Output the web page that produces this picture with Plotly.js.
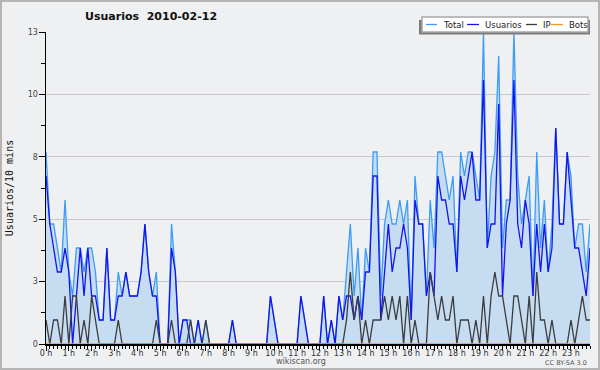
<!DOCTYPE html>
<html>
<head>
<meta charset="utf-8">
<script src="https://cdn.plot.ly/plotly-3.0.1.min.js"></script>
<style>
  html, body { margin: 0; padding: 0; background: #eff0f2; }
  #chart { width: 600px; height: 370px; }
  #frame { position: absolute; left: 0; top: 0; width: 600px; height: 370px; box-sizing: border-box; border: 2px solid #b4b4b4; pointer-events: none; }
</style>
</head>
<body>
<div id="chart"></div>
<div id="frame"></div>
<script>
// 10-minute slots, 2010-02-12 (144 slots)
const usuarios = [7,5,4,3,3,4,3,0,2,4, 2,4,2,2,1,1,4,1,1,2, 2,3,2,2,2,3,5,3,2,2,
  0,0,0,4,3,0,1,1,0,0, 1,0,0,0,0,0,0,0,0,1, 0,0,0,0,0,0,0,0,0,2, 1,0,0,0,0,0,0,2,1,0,
  0,0,0,2,0,1,0,2,1,2, 2,1,2,1,3,3,7,7,1,3, 5,3,4,4,5,4,1,6,5,5, 2,3,2,7,6,6,5,5,3,7,
  6,7,8,6,6,11,4,5,5,10, 2,5,6,11,5,4,6,5,2,5, 3,5,3,4,9,5,5,8,6,4, 4,3,2,4];
const ip = [1,0,1,1,0,2,0,2,2,0, 1,0,2,1,0,0,0,0,0,1, 0,0,0,0,0,0,0,0,0,1,
  0,0,0,1,0,0,0,0,1,0, 0,0,1,0,0,0,0,0,0,0, 0,0,0,0,0,0,0,0,0,0, 0,0,0,0,0,0,0,0,0,0,
  0,0,0,0,0,0,0,0,0,1, 3,1,2,0,1,0,1,1,1,2, 1,2,1,2,0,2,0,1,0,0, 0,3,2,1,2,1,1,2,0,1,
  1,1,0,1,0,2,0,2,3,2, 2,1,0,2,2,1,0,2,0,3, 1,1,0,1,0,0,0,0,1,0, 1,2,1,1];
const total = [8,5,5,4,3,6,3,2,4,4, 3,4,4,3,1,1,4,1,1,3, 2,3,2,2,2,3,5,3,2,3,
  0,0,0,5,3,0,1,1,1,0, 1,0,1,0,0,0,0,0,0,1, 0,0,0,0,0,0,0,0,0,2, 1,0,0,0,0,0,0,2,1,0,
  0,0,0,2,0,1,0,2,1,3, 5,2,4,1,4,3,8,8,2,5, 6,5,5,6,5,6,1,7,5,5, 2,6,4,8,8,7,6,7,3,8,
  7,8,8,7,6,13,4,7,8,12, 4,6,6,13,7,5,6,7,2,8, 4,6,3,5,9,5,5,8,7,4, 5,5,3,5];
const bots = [0,0,0,0,0,0,0,0,0,0, 0,0,0,0,0,0,0,0,0,0, 0,0,0,0,0,0,0,0,0,0,
  0,0,0,0,0,0,0,0,0,0, 0,0,0,0,0,0,0,0,0,0, 0,0,0,0,0,0,0,0,0,0, 0,0,0,0,0,0,0,0,0,0,
  0,0,0,0,0,0,0,0,0,0, 0,0,0,0,0,0,0,0,0,0, 0,0,0,0,0,0,0,0,0,0, 0,0,0,0,0,0,0,0,0,0,
  0,0,0,0,0,0,0,0,0,0, 0,0,0,0,0,0,0,0,0,0, 0,0,0,0,0,0,0,0,0,0, 0,0,0,0];
const seriesNames = ["Total", "Usuarios", "IP", "Bots"];
const seriesColors = ["#3d9cf5", "#1414f0", "#3c3c3c", "#ff9a1a"];
const hourLabels = ["0 h","1 h","2 h","3 h","4 h","5 h","6 h","7 h","8 h","9 h","10 h","11 h",
  "12 h","13 h","14 h","15 h","16 h","17 h","18 h","19 h","20 h","21 h","22 h","23 h"];
const yTickVals = [0, 2.6, 5.2, 7.8, 10.4, 13];
const yTickText = ["0", "3", "5", "8", "10", "13"];

const slots = usuarios.map((_, i) => i);
const hourTicks = hourLabels.map((_, h) => h * 6);

// plot-area geometry (pixels) used to place decorations
const W = 600, H = 370, ML = 46, MR = 10, MT = 32, MB = 26;
const PW = W - ML - MR, PH = H - MT - MB;
const px = x => (x - ML) / PW;           // pixel x -> paper x
const py = y => (H - MB - y) / PH;       // pixel y -> paper y

const lineW = 1.3;
const seriesData = [total, usuarios, ip, bots];
const traces = seriesData.map((d, k) => {
  const t = { x: slots, y: d, name: seriesNames[k], type: "scatter", mode: "lines",
    line: { color: seriesColors[k], width: lineW } };
  if (k === 0) { t.fill = "tozeroy"; t.fillcolor = "#c6dcf0"; }
  return t;
});

const font = "DejaVu Sans, sans-serif";

// custom compact legend (box + shadow + swatches + labels)
const legSwatchX = [[426, 437], [467, 479], [526, 537], [551, 563]];
const legTextX = [442, 484, 541.5, 567.5];
const legY = 24.5;
const shapes = [
  { type: "rect", xref: "paper", yref: "paper", x0: px(419), x1: px(590), y0: py(34.5), y1: py(20),
    fillcolor: "#7a7a7a", line: { width: 0 }, layer: "above" },
  { type: "rect", xref: "paper", yref: "paper", x0: px(422), x1: px(588), y0: py(32), y1: py(17),
    fillcolor: "#ffffff", line: { color: "#a8a8a8", width: 1.5 }, layer: "above" }
];
const annotations = [];
seriesNames.forEach((n, k) => {
  shapes.push({ type: "line", xref: "paper", yref: "paper",
    x0: px(legSwatchX[k][0]), x1: px(legSwatchX[k][1]), y0: py(legY), y1: py(legY),
    line: { color: seriesColors[k], width: 1.3 }, layer: "above" });
  annotations.push({ text: n, xref: "paper", yref: "paper", x: px(legTextX[k]), y: py(legY),
    xanchor: "left", yanchor: "middle", showarrow: false, borderpad: 0,
    font: { family: font, size: 8.5, color: "#222" } });
});
annotations.push(
  { text: "wikiscan.org", xref: "paper", yref: "paper", x: px(300.5), y: py(361),
    xanchor: "center", yanchor: "middle", showarrow: false,
    font: { family: font, size: 8, color: "#555" } },
  { text: "CC BY-SA 3.0", xref: "paper", yref: "paper", x: px(589), y: py(363),
    xanchor: "right", yanchor: "middle", showarrow: false,
    font: { family: font, size: 6.5, color: "#555" } }
);

const layout = {
  width: W, height: H,
  margin: { l: ML, r: MR, t: MT, b: MB, pad: 0, autoexpand: false },
  paper_bgcolor: "#eff0f2", plot_bgcolor: "#eff0f2",
  showlegend: false,
  title: { text: "Usuarios  2010-02-12", font: { family: font, size: 11, color: "#111", weight: "bold" },
    xref: "container", x: 85 / W, xanchor: "left", yref: "container", y: 1 - 16 / H, yanchor: "middle" },
  xaxis: {
    range: [0, 143], showgrid: false, zeroline: false,
    showline: true, linecolor: "#000", linewidth: 1.5,
    tickmode: "array", tickvals: hourTicks, ticktext: hourLabels,
    ticks: "outside", ticklen: 5, tickcolor: "#000", tickwidth: 1,
    ticklabelstandoff: -4,
    tickfont: { family: font, size: 8, color: "#333" },
    minor: { tickmode: "linear", tick0: 0, dtick: 1, ticks: "outside", ticklen: 3, tickcolor: "#000", tickwidth: 1, showgrid: false },
    fixedrange: true
  },
  yaxis: {
    range: [0, 13], zeroline: false,
    showline: true, linecolor: "#000", linewidth: 1.5,
    tickmode: "array", tickvals: yTickVals, ticktext: yTickText,
    showgrid: true, gridcolor: "#c8c8cc", gridwidth: 1,
    ticks: "outside", ticklen: 6, tickcolor: "#000", tickwidth: 1,
    ticklabelstandoff: -1,
    tickfont: { family: font, size: 8, color: "#444" },
    minor: { tickmode: "linear", tick0: 0, dtick: 1.3, ticks: "outside", ticklen: 4, tickcolor: "#000", tickwidth: 1, showgrid: false },
    title: { text: "Usuarios/10 mins", font: { family: "DejaVu Sans Mono, monospace", size: 10, color: "#111" }, standoff: 12 },
    fixedrange: true
  },
  shapes: shapes,
  annotations: annotations
};

Plotly.newPlot("chart", traces, layout, { staticPlot: true, displayModeBar: false });
</script>
</body>
</html>
